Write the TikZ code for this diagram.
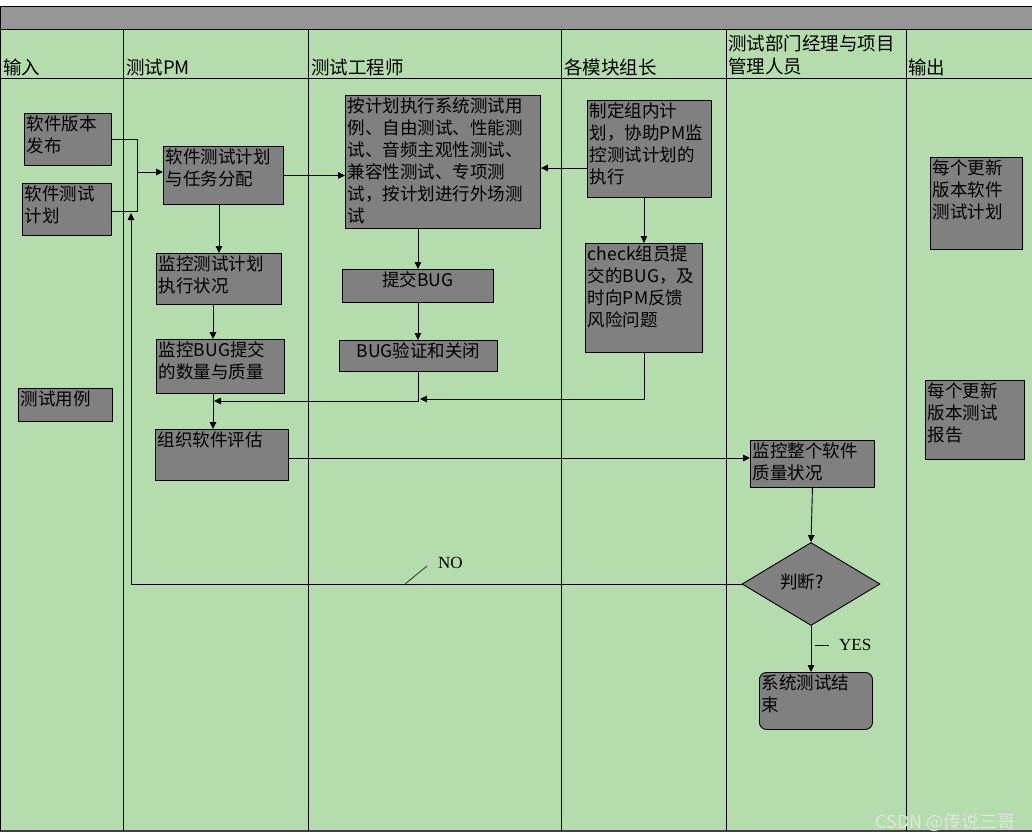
\documentclass[tikz,border=0pt]{standalone}
\usepackage{fontspec}
\setmainfont{Noto Sans CJK SC}
\newfontfamily\latfont{Liberation Serif}
\usetikzlibrary{arrows.meta,shapes.geometric}
\definecolor{lanegreen}{RGB}{181,220,172}
\definecolor{boxgray}{RGB}{128,128,128}
\definecolor{bargray}{RGB}{150,150,150}
\definecolor{wmgray}{RGB}{225,228,225}
\newcommand\gbox[7][]{\node[gbox,#1,anchor=north west] (#2) at (#3,#4)
  {\parbox[c][\dimexpr#6pt-4pt\relax][t]{\dimexpr#5pt-5pt\relax}{\raggedright #7}};}
\begin{document}
\begin{tikzpicture}[x=1pt,y=-1pt,
  ln/.style={draw=black,line width=0.9pt},
  arr/.style={ln,-{Triangle[length=7pt,width=6.5pt]}},
  gbox/.style={draw=black,fill=boxgray,line width=0.9pt,inner xsep=2.5pt,inner ysep=2pt,
    font=\fontsize{17.5}{22}\selectfont},
  hdr/.style={inner sep=0pt,font=\fontsize{18.5}{22.5}\selectfont},
  decstyle/.style={diamond,draw=black,fill=boxgray,line width=0.9pt,inner sep=0pt,
    minimum width=138pt,minimum height=83pt,font=\fontsize{17.5}{22}\selectfont},
  lbl/.style={inner sep=0pt,font=\latfont\fontsize{17}{20}\selectfont}]
\useasboundingbox (0,0) rectangle (1032,839);
\fill[white] (0,0) rectangle (1032,839);
% lanes background
\fill[lanegreen] (0,29) rectangle (1032,831);
\fill[bargray] (0,6) rectangle (1032,29);
\draw[ln] (0,6) -- (1032,6);
\draw[ln] (0,29) -- (1032,29);
\draw[ln] (0,78) -- (1032,78);
\draw[draw=black!75,line width=1.4pt] (0,831) -- (1032,831);
\draw[ln] (0.5,6) -- (0.5,831);
\foreach \x in {123,308,561,726,906} \draw[ln] (\x,29) -- (\x,831);
% headers
\node[hdr,anchor=base west] (h1) at (3,74.5) {输入};
\node[hdr,anchor=base west] (h2) at (126,74.5) {测试PM};
\node[hdr,anchor=base west] (h3) at (311,74.5) {测试工程师};
\node[hdr,anchor=base west] (h4) at (564,74.5) {各模块组长};
\node[hdr,anchor=north west,align=left] (h5) at (728,35) {测试部门经理与项目\\管理人员};
\node[hdr,anchor=base west] (h6) at (908,74.5) {输出};
% boxes
\gbox{in1}{24}{113}{87}{52}{软件版本\\发布}
\gbox{in2}{22}{183}{89}{52}{软件测试\\计划}
\gbox{in3}{18}{388}{94}{33}{测试用例}
\gbox{pm1}{163}{146}{120}{58}{软件测试计划\\与任务分配}
\gbox{pm2}{156}{253}{125}{51}{监控测试计划\\执行状况}
\gbox{pm3}{156}{339}{128}{54}{监控BUG提交\\的数量与质量}
\gbox{pm4}{155}{429}{133}{51}{组织软件评估}
\gbox{eng1}{345}{95}{195}{133}{按计划执行系统测试用\\例、自由测试、性能测\\试、音频主观性测试、\\兼容性测试、专项测\\试，按计划进行外场测\\试}
\gbox{eng2}{342}{269}{151}{33}{\centering 提交BUG}
\gbox{eng3}{339}{340}{158}{31}{\centering BUG验证和关闭}
\gbox{mod1}{587}{100}{124}{97}{制定组内计\\划，协助PM监\\控测试计划的\\执行}
\gbox{mod2}{585}{243}{117}{109}{check组员提\\交的BUG，及\\时向PM反馈\\风险问题}
\gbox{mgr1}{750}{440}{124}{47}{监控整个软件\\质量状况}
\gbox{out1}{930}{157}{92}{92}{每个更新\\版本软件\\测试计划}
\gbox{out2}{925}{380}{99}{79}{每个更新\\版本测试\\报告}
\gbox[rounded corners=7pt]{end}{759}{672}{113}{57}{系统测试结\\束}
\node[decstyle] (dec) at (811,584) {\hspace*{-18pt}\raisebox{5pt}{判断?}};
% connectors
\coordinate (j1) at (137,139);
\coordinate (j2) at (137,211);
\coordinate (j3) at (137,172);
\draw[ln] (in1.east) -- (in1.east -| j1) -- (j2) -- (j2 -| in2.east);
\draw[arr] (j3) -- (j3 -| pm1.west);
\draw[arr] (pm1.east) -- (pm1.east -| eng1.west);
\draw[arr] (pm2.north |- pm1.south) -- (pm2.north);
\coordinate (xa) at (213,0);
\draw[arr] (pm2.south -| xa) -- (pm3.north -| xa);
\draw[arr] (pm3.south -| xa) -- (pm4.north -| xa);
\draw[arr] (eng2.north |- eng1.south) -- (eng2.north);
\draw[arr] (eng2.south) -- (eng2.south |- eng3.north);
\coordinate (m1) at (0,401);
\coordinate (m2) at (0,399);
\draw[arr] (eng3.south) -- (eng3.south |- m1) -- ([xshift=1pt]xa |- m1);
\draw[arr] (mod2.south) -- (mod2.south |- m2) -- ([xshift=1.5pt]eng3.south |- m2);
\coordinate (y168) at (0,168);
\draw[arr] (mod1.west |- y168) -- (eng1.east |- y168);
\draw[arr] (mod2.north |- mod1.south) -- (mod2.north);
\coordinate (y458) at (0,458);
\draw[arr] (pm4.east |- y458) -- (mgr1.west |- y458);
\draw[arr] (mgr1.south) -- (dec.north);
\draw[arr] (dec.south) -- (dec.south |- end.north);
\coordinate (fb) at (131,213);
\draw[arr] (dec.west) -| (fb);
% labels
\coordinate (nt1) at (405,584);
\coordinate (nt2) at (427,566);
\draw[line width=0.8pt,draw=black!80] (nt1) -- (nt2);
\node[lbl,anchor=west] (no) at (438,563) {NO};
\coordinate (yt1) at (815,645);
\coordinate (yt2) at (829,645);
\draw[line width=0.8pt] (yt1) -- (yt2);
\node[lbl,anchor=west] (yes) at (839,645) {YES};
% watermark
\node[anchor=base east,inner sep=0pt,text=wmgray,font=\fontsize{18}{20}\selectfont] (wm) at (1016,828) {CSDN @传说三哥};
\end{tikzpicture}
\end{document}
